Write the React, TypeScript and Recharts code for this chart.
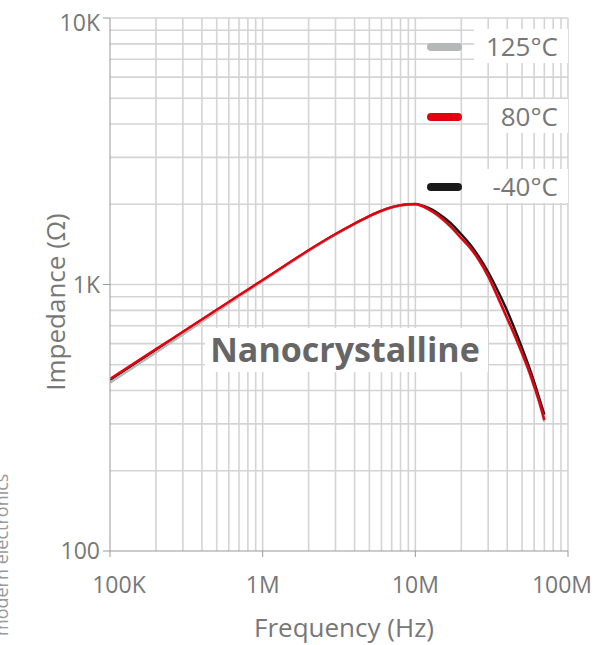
import React from 'react';
import { LineChart, Line, XAxis, YAxis, ReferenceLine, Legend } from 'recharts';

// frequency points (Hz) and impedance readings (ohm) per temperature
const freqs = [1e5, 2e5, 3e5, 5e5, 7e5, 1e6, 1.5e6, 2e6, 3e6, 4e6, 5e6, 6e6, 7e6, 8e6, 9e6, 1e7, 1.1e7, 1.2e7, 1.4e7, 1.7e7, 2e7, 2.3e7, 2.6e7, 3e7, 3.5e7, 4e7, 4.5e7, 5e7, 5.5e7, 6e7, 6.5e7, 7e7];
const z125 = [428, 556, 650, 790, 899, 1028, 1200, 1336, 1540, 1688, 1803, 1887, 1943, 1977, 1993, 1996, 1966, 1920, 1813, 1645, 1487, 1362, 1235, 1070, 882, 742, 636, 548, 477, 412, 357, 306];
const z80 = [442, 572, 665, 804, 911, 1040, 1210, 1345, 1547, 1693, 1807, 1891, 1947, 1981, 1997, 2000, 1972, 1927, 1822, 1651, 1493, 1369, 1241, 1075, 887, 746, 640, 552, 481, 416, 361, 310];
const zMinus40 = [438, 568, 661, 800, 907, 1035, 1206, 1341, 1543, 1690, 1805, 1890, 1948, 1984, 2002, 2005, 1979, 1945, 1855, 1701, 1543, 1407, 1275, 1114, 937, 795, 675, 578, 499, 431, 372, 325];

const xTicks = [1e5, 1e6, 1e7, 1e8];
const yTicks = [100, 1000, 10000];
const xGrid = [2e5, 3e5, 4e5, 5e5, 6e5, 7e5, 8e5, 9e5, 1e6, 2e6, 3e6, 4e6, 5e6, 6e6, 7e6, 8e6, 9e6, 1e7, 2e7, 3e7, 4e7, 5e7, 6e7, 7e7, 8e7, 9e7, 1e8];
const yGrid = [200, 300, 400, 500, 600, 700, 800, 900, 1000, 2000, 3000, 4000, 5000, 6000, 7000, 8000, 9000, 10000];
const legendOrder = ['125°C', '80°C', '-40°C'];

const toRows = (vals: number[]) => freqs.map((f, i) => ({ f, v: vals[i] }));

const fmt = (v: number) => {
  if (v >= 1e6) return `${v / 1e6}M`;
  if (v >= 1e3) return `${v / 1e3}K`;
  return `${v}`;
};

const FONT = '"Open Sans", sans-serif';
const GRID = '#d4d4d4';

function XTick({ x, y, payload, index }: any) {
  // outer labels sit a bit inwards in the original
  const dx = index === 0 ? 9 : index === xTicks.length - 1 ? -4 : 0;
  return (
    <text x={x + dx} y={y} dy="0.71em" textAnchor="middle" fill="#777" fontSize={23}>
      {fmt(payload.value)}
    </text>
  );
}

function YTick({ x, y, payload }: any) {
  const dy = payload.value === 10000 ? 5 : 0;
  return (
    <text x={x} y={y + dy} dy="0.355em" textAnchor="end" fill="#777" fontSize={23}>
      {fmt(payload.value)}
    </text>
  );
}

function LegendBox({ payload }: any) {
  const items = [...(payload ?? [])].sort(
    (a: any, b: any) => legendOrder.indexOf(a.value) - legendOrder.indexOf(b.value)
  );
  return (
    <div style={{ position: 'relative', width: 602, height: 0, fontFamily: FONT }}>
      {items.map((it: any, i: number) => {
        const cy = 47 + i * 70;
        return (
          <React.Fragment key={it.value}>
            <div
              style={{
                position: 'absolute',
                left: 427,
                top: cy - 4,
                width: 35,
                height: 8,
                borderRadius: 4,
                background: it.color,
              }}
            />
            <div
              style={{
                position: 'absolute',
                right: 34,
                top: cy - 18,
                height: 34,
                lineHeight: '34px',
                padding: '0 10px 0 12px',
                background: '#fff',
                color: '#777',
                fontSize: 26,
                whiteSpace: 'nowrap',
              }}
            >
              {it.value}
            </div>
          </React.Fragment>
        );
      })}
    </div>
  );
}

export default function App() {
  return (
    <div style={{ position: 'absolute', left: 0, top: 0, width: 602, height: 645, background: '#fff' }}>
      <LineChart
        width={602}
        height={645}
        margin={{ top: 18, right: 34, left: 50, bottom: 44 }}
        style={{ fontFamily: FONT }}
      >
        {xGrid.map((v) => (
          <ReferenceLine key={`x${v}`} x={v} stroke={GRID} strokeWidth={1.6} zIndex={-50} />
        ))}
        {yGrid.map((v) => (
          <ReferenceLine key={`y${v}`} y={v} stroke={GRID} strokeWidth={1.6} zIndex={-50} />
        ))}
        <XAxis
          dataKey="f"
          type="number"
          scale="log"
          domain={[1e5, 1e8]}
          ticks={xTicks}
          tick={<XTick />}
          allowDataOverflow
          height={50}
          stroke="#999"
          tickSize={6}
          tickMargin={20}
        />
        <YAxis
          type="number"
          scale="log"
          domain={[100, 10000]}
          ticks={yTicks}
          tick={<YTick />}
          allowDataOverflow
          width={60}
          stroke="#999"
          tickSize={7}
          tickMargin={3}
        />
        <Legend
          content={<LegendBox />}
          layout="horizontal"
          verticalAlign="middle"
          align="center"
          wrapperStyle={{ left: 0, top: 0, width: 602, height: 0 }}
        />
        <Line
          data={toRows(zMinus40)}
          dataKey="v"
          name="-40°C"
          type="monotone"
          stroke="#1a1a1a"
          strokeWidth={2.5}
          dot={false}
          isAnimationActive={false}
        />
        <Line
          data={toRows(z125)}
          dataKey="v"
          name="125°C"
          type="monotone"
          stroke="#b4b8b8"
          strokeWidth={2.5}
          dot={false}
          isAnimationActive={false}
        />
        <Line
          data={toRows(z80)}
          dataKey="v"
          name="80°C"
          type="monotone"
          stroke="#e3000f"
          strokeWidth={2.5}
          dot={false}
          isAnimationActive={false}
        />
      </LineChart>
      <svg
        width={602}
        height={645}
        style={{ position: 'absolute', left: 0, top: 0, pointerEvents: 'none', fontFamily: FONT }}
      >
        <rect x={205} y={328} width={283} height={44} fill="#fff" />
        <text x={345} y={362} textAnchor="middle" fontSize={34} fontWeight={700} fill="#666">
          Nanocrystalline
        </text>
        <text
          x={55}
          y={302}
          transform="rotate(-90 55 302)"
          textAnchor="middle"
          dominantBaseline="central"
          fontSize={26}
          fill="#777"
        >
          Impedance (Ω)
        </text>
        <text x={344} y={627} textAnchor="middle" dominantBaseline="central" fontSize={26} fill="#777">
          Frequency (Hz)
        </text>
        <text x={8} y={636} transform="rotate(-90 8 636)" fontSize={18} fill="#999">
          modern electronics
        </text>
      </svg>
    </div>
  );
}
